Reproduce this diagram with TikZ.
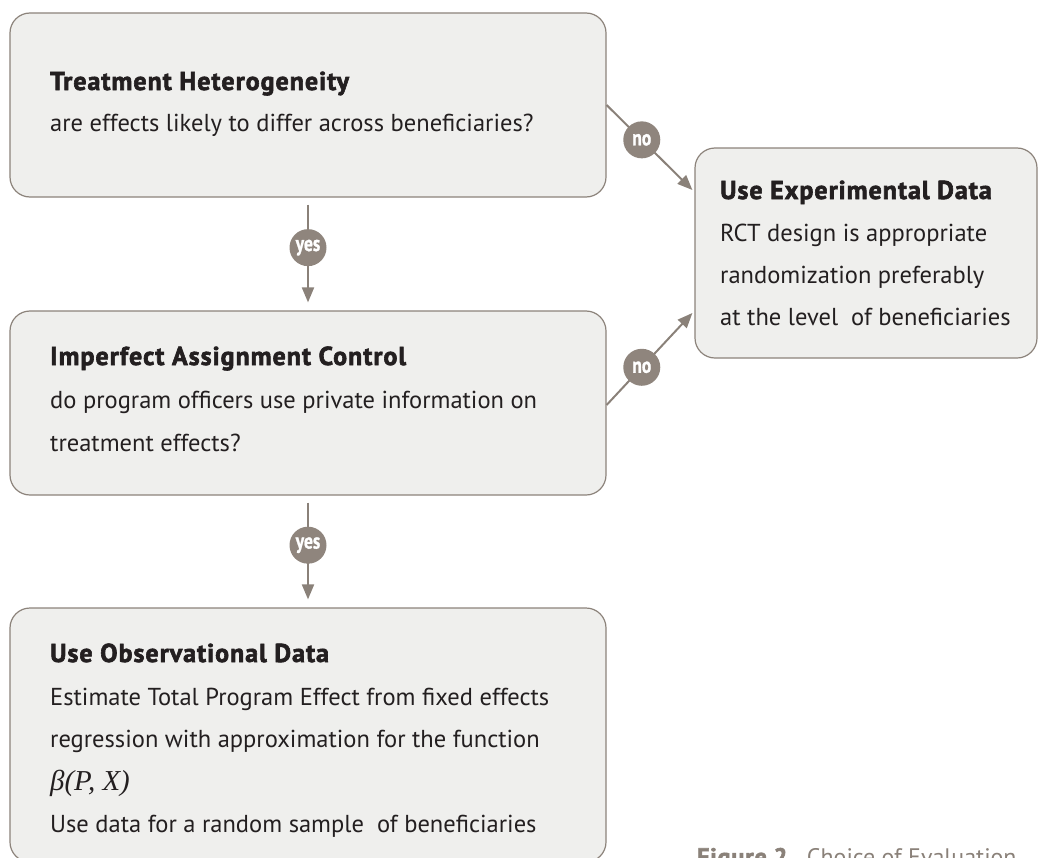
\documentclass[tikz,border=0pt]{standalone}
\usepackage{fontspec}
\usepackage{graphicx}
\setmainfont{PT Sans}
\newfontfamily\betafont{Liberation Serif}
\newfontfamily\headfont{PT Sans Bold}[FakeBold=2.4, LetterSpace=4]
\newfontfamily\badgefont{PT Sans Bold}[FakeBold=1.2]
\usetikzlibrary{arrows.meta,calc}
\definecolor{boxfill}{HTML}{EFEFED}
\definecolor{boxline}{HTML}{8C837B}
\definecolor{dot}{HTML}{8F857D}
\definecolor{ink}{HTML}{231F20}
\definecolor{capt}{HTML}{8A8179}
\tikzset{
 box/.style={draw=boxline, fill=boxfill, line width=1.2bp, rounded corners=20bp, inner sep=0pt},
 head/.style={anchor=base west, inner sep=0pt, text=ink, font=\fontsize{26}{30}\headfont},
 body/.style={anchor=base west, inner sep=0pt, text=ink, font=\fontsize{24.6}{30}\selectfont},
 flow/.style={draw=capt, line width=2bp, -{Triangle[length=15bp,width=12bp]}},
 badge/.style={circle, fill=dot, text=white, minimum size=37bp, inner sep=0pt, font=\fontsize{22}{22}\badgefont},
 captiontext/.style={anchor=base west, inner sep=0pt, text=capt, font=\fontsize{24}{28}\selectfont},
}
\begin{document}
\begin{tikzpicture}[x=1bp,y=-1bp]
\path[use as bounding box, clip] (0,0) rectangle (1038,858);
% boxes
\node[box, minimum width=596bp, minimum height=184bp] (b1) at (308,105) {};
\node[box, minimum width=596bp, minimum height=184bp] (b2) at (308,403) {};
\node[box, minimum width=596bp, minimum height=254bp] (b3) at (308,735) {};
\node[box, minimum width=342bp, minimum height=210bp] (b4) at (866,253) {};
% texts
\node[head] (t1h) at (50,90) {Treatment Heterogeneity};
\node[body] (t1a) at (50,131) {are effects likely to differ across beneficiaries?};
\node[head] (t2h) at (50,365) {Imperfect Assignment Control};
\node[body] (t2a) at (50,408) {do program officers use private information on};
\node[body] (t2b) at (50,451) {treatment effects?};
\node[head] (t3h) at (50,662) {Use Observational Data};
\node[body] (t3a) at (50,705) {Estimate Total Program Effect from fixed effects};
\node[body] (t3b) at (50,747) {regression with approximation for the function};
\node[body, font=\fontsize{29}{32}\selectfont\betafont\itshape] (t3c) at (50,790) {β(P, X)};
\node[body] (t3d) at (50,832) {Use data for a random sample~ of beneficiaries};
\node[head] (t4h) at (720,199) {Use Experimental Data};
\node[body] (t4a) at (720,241) {RCT design is appropriate};
\node[body] (t4b) at (720,283) {randomization preferably};
\node[body] (t4c) at (720,325) {at the level~ of beneficiaries};
% connectors
\draw[flow] ([yshift=-7bp]b1.south) -- ([yshift=8bp]b2.north) node[badge, pos=0.44] (y1) {\scalebox{0.8}[1]{yes}};
\draw[flow] ([yshift=-7bp]b2.south) -- ([yshift=8bp]b3.north) node[badge, pos=0.44] (y2) {\scalebox{0.8}[1]{yes}};
\draw[flow] (b1.east) -- ([xshift=-2bp,yshift=63bp]b4.west) node[badge, pos=0.41] (n1) {\scalebox{0.8}[1]{no}};
\draw[flow] ([yshift=-2bp]b2.east) -- ([xshift=-2bp,yshift=-60bp]b4.west) node[badge, pos=0.41] (n2) {\scalebox{0.8}[1]{no}};
% caption
\node[captiontext] (cap) at (697,865) {{\headfont Figure 2.}\ \ Choice of Evaluation};
\end{tikzpicture}
\end{document}
